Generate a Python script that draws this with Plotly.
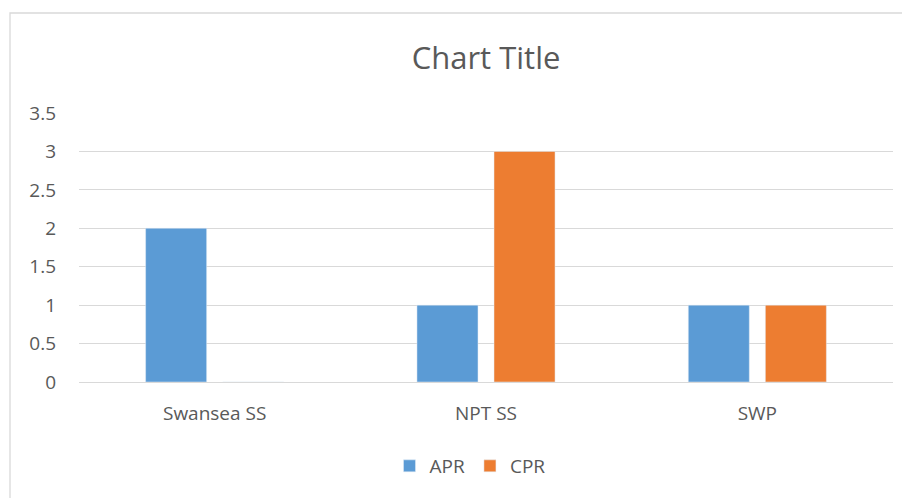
import plotly.graph_objects as go

categories = ["Swansea SS", "NPT SS", "SWP"]
apr_values = [2, 1, 1]
cpr_values = [0, 3, 1]
y_ticks = [0, 0.5, 1, 1.5, 2, 2.5, 3, 3.5]
y_tick_labels = ["0", "0.5", "1", "1.5", "2", "2.5", "3", "3.5"]

OFF = 8  # page body margin
W, H = 910 - OFF, 498 - OFF
L, T = 79 - OFF, 113 - OFF
R = W - (893 - OFF)
B = H - (382 - OFF)
pw = W - L - R
ph = H - T - B

font = "Open Sans"
gray = "#595959"

fig = go.Figure()
fig.add_trace(go.Bar(name="APR", x=categories, y=apr_values, marker_color="#5B9BD5"))
fig.add_trace(go.Bar(name="CPR", x=categories, y=cpr_values, marker_color="#ED7D31"))

fig.update_layout(
    width=W, height=H,
    margin=dict(l=L, r=R, t=T, b=B, autoexpand=False),
    paper_bgcolor="white", plot_bgcolor="white",
    barmode="group", bargap=0.432, bargroupgap=0.208,
    title=dict(text="Chart Title", x=0.5, xanchor="center", xref="paper",
               y=1 - (58 - OFF) / H, yanchor="middle", yref="container",
               font=dict(family=font, size=31, color=gray)),
    font=dict(family=font, color=gray, size=19),
    legend=dict(orientation="h", x=0.5 + (470 - OFF - (L + pw / 2)) / pw, xanchor="center",
                y=-(466 - OFF - (T + ph)) / ph, yanchor="middle",
                font=dict(family=font, size=19, color=gray),
                itemwidth=30, traceorder="normal"),
    showlegend=True,
)
fig.update_yaxes(range=[0, 3.5], tickvals=y_ticks, ticktext=y_tick_labels,
                 showgrid=True, gridcolor="#D9D9D9", gridwidth=1.3,
                 zeroline=False, showline=False, ticks="", ticklabelstandoff=22,
                 tickfont=dict(family=font, size=19, color=gray), fixedrange=True)
fig.update_xaxes(showgrid=False, showline=True, linecolor="#D9D9D9", linewidth=1.3,
                 ticks="", ticklabelstandoff=14,
                 tickfont=dict(family=font, size=19, color=gray))

fig.add_shape(type="rect", xref="paper", yref="paper",
              x0=(10 - OFF - L) / pw, x1=(W + 5 - L) / pw,
              y0=-(H + 5 - T - ph) / ph, y1=1 + (T - (13 - OFF)) / ph,
              line=dict(color="#D9D9D9", width=1.3), fillcolor="rgba(0,0,0,0)", layer="below")

fig.write_html("out.html")
